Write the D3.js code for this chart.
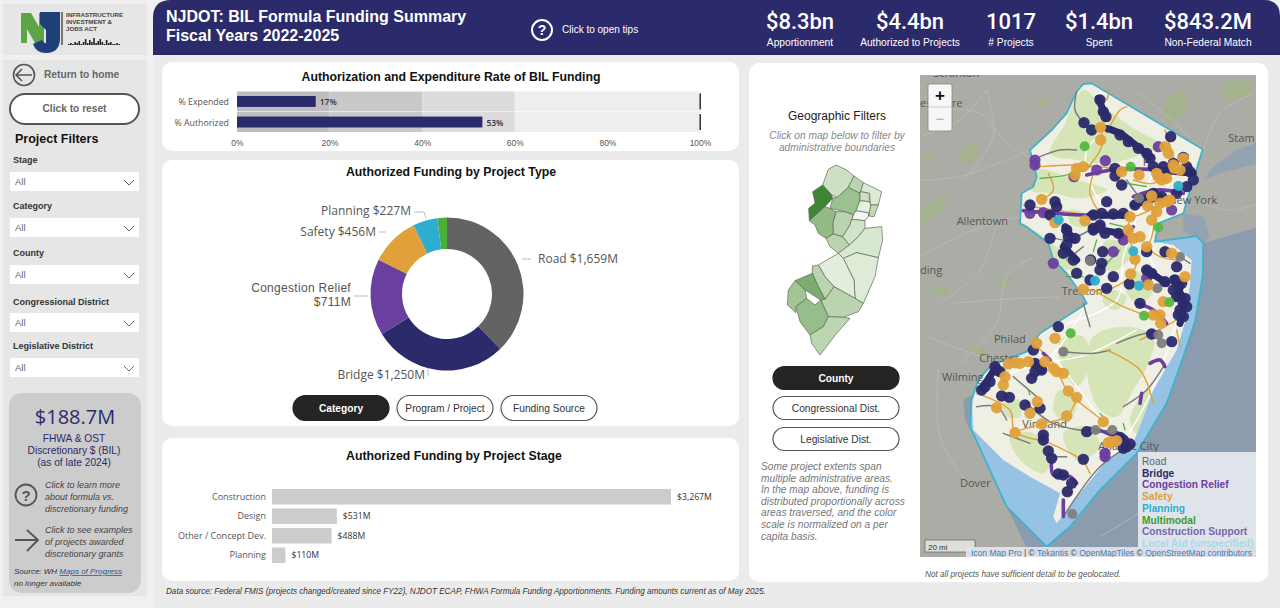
<!DOCTYPE html>
<html>
<head>
<meta charset="utf-8">
<script src="https://cdn.jsdelivr.net/npm/d3@7"></script>
<style>
  html, body { margin: 0; padding: 0; background: #f0f0f0; overflow: hidden; }
  text { font-family: "Liberation Sans", Arial, sans-serif; }
  text.soft { font-family: "Open Sans", "Noto Sans", sans-serif; }
  text.kpi { font-family: Roboto, sans-serif; }
</style>
</head>
<body>
<div id="chart"></div>
<script>
// ---- values ----
const kpiValues = ["$8.3bn", "$4.4bn", "1017", "$1.4bn", "$843.2M"];
const kpiLabels = ["Apportionment", "Authorized to Projects", "# Projects", "Spent", "Non-Federal Match"];
const filterNames = ["Stage", "Category", "County", "Congressional District", "Legislative District"];

const rateNames = ["% Expended", "% Authorized"];
const rateValues = [17, 53];
const rateBands = [20, 40, 60, 100];
const rateTicks = [0, 20, 40, 60, 80, 100];

const typeNames = ["Road", "Bridge", "Congestion Relief", "Safety", "Planning", "Multimodal"];
const typeValues = [1659, 1250, 711, 456, 227, 90];

const stageNames = ["Construction", "Design", "Other / Concept Dev.", "Planning"];
const stageValues = [3267, 531, 488, 110];

const legendNames = ["Road", "Bridge", "Congestion Relief", "Safety", "Planning", "Multimodal", "Construction Support", "Local Aid (unspecified)"];
const legendColors = ["#636363", "#2b2a6b", "#6b3fa0", "#e0a03a", "#2eaecf", "#3f9a2e", "#7568ab", "#a5dbe8"];

// county shapes and shading, in units of the small locator map
const countyShapes = [
  [[218,285],[235,238],[258,225],[290,240],[312,258],[295,292],[262,322],[245,315]],
  [[218,285],[245,315],[248,325],[225,350],[178,392],[176,355],[195,340],[188,305]],
  [[312,258],[340,278],[332,305],[330,310],[295,292]],
  [[340,278],[395,305],[385,345],[362,345],[358,310],[332,305]],
  [[295,292],[330,310],[330,332],[318,362],[310,375],[285,365],[240,355],[248,325],[262,322]],
  [[332,305],[358,310],[358,335],[330,332],[330,310]],
  [[362,345],[385,345],[372,380],[356,378]],
  [[318,362],[355,368],[356,378],[345,392],[305,388],[310,375]],
  [[330,332],[358,335],[362,345],[356,378],[355,368],[318,362]],
  [[258,365],[285,365],[310,375],[305,388],[300,405],[278,440],[250,432],[248,400]],
  [[178,392],[225,350],[240,355],[258,365],[248,400],[250,432],[228,445],[205,430],[195,405]],
  [[228,445],[250,432],[278,440],[298,465],[265,490],[240,470]],
  [[300,405],[305,388],[345,392],[345,415],[325,440],[298,465],[278,440]],
  [[345,415],[395,410],[398,450],[385,503],[320,488],[280,505],[265,490],[298,465],[325,440]],
  [[280,505],[320,488],[385,503],[375,560],[340,640],[315,625],[312,570]],
  [[205,525],[265,490],[280,505],[312,570],[315,625],[252,590],[225,560]],
  [[187,528],[205,525],[225,560],[252,590],[225,628],[205,590],[187,550]],
  [[135,572],[187,550],[205,590],[225,628],[212,630],[165,600]],
  [[252,590],[315,625],[340,640],[325,665],[280,682],[235,680],[212,630],[225,628]],
  [[112,645],[115,600],[135,572],[165,600],[170,625],[138,650],[138,668]],
  [[138,650],[170,625],[195,645],[212,630],[235,680],[220,710],[180,735],[150,695]],
  [[180,735],[220,710],[235,680],[280,682],[300,685],[260,730],[210,795],[185,760]]
];
const countyShade = [.2, 1, .3, .13, .45, .2, .25, .02, .08, .3, .5, .3, .18, .15, .12, .1, .3, .62, .3, .42, .48, .28];

// big map, in map units
const stateOutline = [[490,42],[515,40],[848,238],[800,395],[790,430],[715,460],[705,515],[830,498],[850,520],[848,620],[825,755],[790,860],[740,1000],[650,1150],[540,1260],[450,1370],[380,1430],[340,1390],[260,1310],[150,1070],[155,990],[175,930],[215,885],[320,845],[360,790],[470,720],[500,700],[490,680],[440,610],[400,570],[385,520],[320,470],[300,460],[305,370],[340,350],[350,320],[330,240],[395,180],[440,130],[470,65]];
const stateLand = [[490,42],[515,40],[848,238],[800,395],[790,430],[715,460],[705,515],[760,525],[815,570],[810,640],[800,740],[770,840],[700,960],[640,1120],[560,1170],[480,1270],[410,1360],[400,1340],[420,1270],[330,1220],[250,1170],[160,1080],[155,990],[175,930],[215,885],[320,845],[360,790],[470,720],[500,700],[490,680],[440,610],[400,570],[385,520],[320,470],[300,460],[305,370],[340,350],[350,320],[330,240],[395,180],[440,130],[470,65]];
const parkShapes = [
  [[490,60],[540,100],[640,175],[720,225],[660,255],[560,280],[470,270],[390,250],[430,170]],
  [[350,300],[470,330],[560,360],[480,385],[400,370],[330,360]],
  [[340,480],[420,540],[480,600],[420,590],[380,530]],
  [[560,510],[640,540],[590,600],[540,590]],
  [[520,800],[620,770],[700,800],[690,870],[640,960],[590,1040],[540,1020],[500,900]],
  [[420,810],[490,800],[510,880],[470,950],[430,900]],
  [[270,1100],[340,1090],[390,1180],[370,1210],[300,1170]],
  [[430,1090],[500,1070],[540,1130],[470,1170]],
  [[560,660],[620,680],[590,720],[550,700]],
  [[630,1050],[680,960],[700,970],[650,1090]],
  [[250,1000],[300,990],[300,1040],[260,1040]],
  [[420,960],[470,1000],[440,1060],[400,1020]],
  [[640,600],[700,660],[660,700],[620,670]],
  [[450,420],[510,440],[500,470],[450,460]]
];
const backgroundParks = [
  [[730,100],[790,60],[800,110],[750,160]],[[0,430],[70,380],[80,400],[10,460]],[[350,90],[385,85],[370,110]],
  [[30,660],[80,650],[70,680]],[[150,830],[200,840],[190,870]],[[900,60],[960,30],[1000,60],[930,90]],[[120,250],[170,220],[180,250],[130,280]],[[0,260],[40,255],[35,275]],[[220,640],[270,620],[260,650]]
];
const baseRoads = [
  [[0,330],[120,320],[330,240]],[[0,560],[160,480],[300,440]],[[60,120],[180,130],[260,220],[340,270]],[[150,1250],[60,1100],[55,900]],
  [[850,240],[900,130],[1000,70]],[[850,400],[930,420],[1020,400]],[[100,700],[220,690],[420,680]],[[20,800],[210,870]],[[540,1400],[700,1300],[830,1190]],
  [[200,60],[220,200],[130,330]],[[0,200],[120,150],[200,60]],[[230,460],[180,600],[60,700]],[[340,560],[260,620],[230,760],[120,880]],[[640,60],[720,120],[850,240]]
];
const whiteRoads = [
  [[540,60],[560,170],[500,240],[510,340],[560,420]],[[330,430],[520,430],[720,420]],[[700,300],[640,470],[610,560],[590,690],[440,760]],
  [[770,300],[700,450],[690,560],[770,700],[740,850],[620,1100],[430,1310]],[[500,700],[390,860],[250,920],[180,980]],[[400,860],[550,1060],[580,1120]],[[650,780],[480,860],[300,880]]
];
const orangeRoutes = [
  [[310,405],[400,420],[640,440],[720,400]],[[360,290],[470,285],[620,300]],[[520,310],[510,370],[540,430]],[[542,170],[545,230],[505,290]],
  [[385,310],[400,360],[365,390]],[[640,330],[700,340],[760,300]],[[630,440],[625,500],[650,570],[630,620],[560,660],[500,660]],[[680,530],[720,560],[770,570]],
  [[700,410],[700,480],[680,540]],[[520,660],[610,710],[690,740]],[[560,840],[660,900],[700,1000]],[[170,970],[270,1020],[285,1085],[390,1120],[490,1170]],
  [[285,1085],[370,1060],[440,1040],[470,985]],[[350,830],[400,880],[440,960],[470,990],[560,1060]],[[490,1170],[510,1210]],[[660,810],[700,790],[770,750]],[[770,780],[780,830]],
  [[260,880],[350,875],[430,910]],[[560,90],[570,60]],[[560,190],[600,120],[620,110]],[[735,180],[770,290]]
];
const greyRoutes = [
  [[470,65],[465,120],[492,160]],[[360,260],[420,240],[470,240]],[[620,330],[660,385]],[[390,500],[440,510],[510,480]],[[440,570],[490,530]],
  [[430,845],[520,850],[570,840]],[[590,820],[640,800],[720,780]],[[610,1010],[680,960],[730,890]],[[320,1000],[400,1060],[530,1085],[570,1080]],
  [[170,1010],[230,1010],[260,1050]],[[250,1090],[330,1120]],[[640,1120],[540,1190],[430,1340]],[[490,700],[510,770]],[[280,920],[350,980]],[[780,560],[810,580]],[[400,1160],[440,1160]]
];
const purpleRoutes = [
  [[310,422],[430,432],[530,436],[620,430]],[[500,315],[590,298],[720,300],[820,310]],[[345,270],[350,290]],[[640,380],[710,360],[790,370]],
  [[510,1075],[550,1085],[600,1110]],[[395,1170],[400,1215],[450,1220],[470,1240]],[[430,1290],[430,1340]],[[690,880],[720,870],[735,890]],[[665,970],[660,1000]],
  [[650,700],[700,720],[740,760]],[[370,850],[390,870]],[[560,1140],[555,1170]],[[640,470],[600,510]]
];
const greenRoutes = [
  [[360,325],[440,315],[510,290]],[[440,620],[490,620]],[[530,510],[520,545]],[[550,590],[600,540]],[[610,470],[570,460]],[[620,340],[680,350]],[[750,690],[780,690]],
  [[325,960],[330,975]],[[540,1030],[550,1040]],[[610,1060],[615,1080]]
];
const navyRoutes = [
  [[535,85],[560,145]],[[560,175],[600,190],[640,220],[690,260]],[[640,405],[720,380]],[[435,470],[460,510]],[[760,625],[790,700],[780,760]],[[430,530],[470,570]],[[350,880],[365,900]],
  [[510,436],[610,436]],[[720,300],[820,310]],[[520,475],[600,490]],[[680,600],[740,640]],[[225,895],[190,950]]
];
const navySites = [[540,90],[550,125],[558,140],[492,158],[515,180],[600,195],[625,215],[655,235],[680,250],[690,265],[752,200],[790,262],[730,290],[810,305],[820,330],[585,295],[585,318],[605,345],[725,380],[690,380],[645,405],[405,395],[410,410],[330,405],[390,435],[560,395],[545,430],[520,435],[540,465],[520,475],[555,490],[595,490],[440,480],[445,500],[465,505],[390,505],[440,525],[430,550],[460,570],[512,570],[548,545],[545,580],[540,600],[470,610],[510,630],[560,655],[580,620],[628,642],[680,545],[735,545],[770,590],[680,600],[695,610],[735,635],[765,630],[775,650],[780,680],[795,685],[660,700],[780,720],[785,640],[415,770],[340,840],[345,880],[365,900],[335,925],[230,900],[210,935],[185,960],[245,978],[268,982],[315,1005],[360,1015],[370,1095],[370,1110],[385,1143],[395,1165],[415,1212],[430,1215],[455,1240],[442,1265],[490,1168],[500,1085],[600,1102],[610,1135],[630,1122],[695,792],[755,815],
  [700,290],[760,280],[800,290],[770,370],[800,350],[700,370],[670,390],[225,890],[240,905],[345,905],[355,890],[195,950],[610,1110],[620,1130],[590,1100],[770,680],[790,700],[800,710],[775,735],[790,740],[610,430],[580,432],[520,480],[760,660]];
const orangeSites = [[542,172],[542,210],[735,230],[745,250],[790,265],[763,295],[470,295],[490,290],[465,315],[605,305],[657,315],[715,320],[740,325],[365,388],[695,378],[740,395],[683,408],[630,440],[495,452],[405,458],[710,425],[695,450],[625,480],[640,505],[660,500],[680,530],[645,568],[755,550],[632,612],[685,645],[490,658],[795,620],[730,695],[700,735],[720,735],[722,760],[350,820],[405,805],[265,882],[300,880],[325,875],[375,875],[400,895],[430,910],[255,920],[250,945],[445,963],[470,982],[352,995],[230,1013],[330,1030],[440,1038],[365,1062],[285,1088],[550,1055],[575,1115],
  [710,310],[725,330],[760,285],[780,300],[720,400],[750,390],[285,878],[410,905],[565,1118],[590,1112]];
const purpleSites = [[345,270],[345,285],[462,320],[556,272],[530,300],[715,230],[755,420],[330,430],[370,428],[540,472],[580,545],[400,580],[680,625],[610,510],[555,1150],[555,1160]];
const greenSites = [[494,229],[632,290],[715,472],[748,697],[672,737],[452,790]];
const tealSites = [[775,348],[416,450],[640,544],[657,647],[525,632]];
const greySites = [[657,385],[510,572],[780,560],[712,655],[715,795],[725,820],[430,845],[527,1080],[577,1080],[457,1332]];
const placeNames = [["Scranton",40,20],["es-",0,110],["re",95,110],["Stam",925,215],["P",668,288],["New York",745,403],["Allentown",110,465],["ding",0,613],["Trenton",425,675],["Philad",222,820],["Chester",178,875],["Wilming",66,932],["Vineland",307,1075],["Atlantic City",535,1140],["Dover",120,1252]];
const skylineHeights = [1, 2, 1, 3, 2, 4, 1, 3, 6, 2, 5, 3, 7, 2, 4, 6, 3, 1, 5, 2, 3, 1, 1, 2, 1];

// ---- page ----
const W = 1280, H = 608;
const navy = "#2b2a6b";
const svg = d3.select("#chart").append("svg").attr("width", W).attr("height", H).style("display", "block");

function label(parent, x, y, str, opts = {}) {
  return parent.append("text")
    .attr("x", x).attr("y", y)
    .attr("text-anchor", opts.anchor || "start")
    .attr("font-size", opts.size || 10)
    .attr("font-weight", opts.weight || "normal")
    .attr("font-style", opts.style || "normal")
    .attr("fill", opts.fill || "#333")
    .text(str);
}
function box(parent, x, y, w, h, r, fill, stroke, sw) {
  return parent.append("rect").attr("x", x).attr("y", y).attr("width", w).attr("height", h)
    .attr("rx", r || 0).attr("fill", fill || "none").attr("stroke", stroke || "none").attr("stroke-width", sw || 0);
}
function pill(cx, cy, w, h, txt, dark) {
  box(svg, cx - w / 2, cy - h / 2, w, h, h / 2, dark ? "#252423" : "#fff", dark ? "#252423" : "#555", 1.2);
  label(svg, cx, cy + 4, txt, { anchor: "middle", size: 10.2, weight: dark ? "bold" : "normal", fill: dark ? "#fff" : "#333" });
}

box(svg, 0, 0, W, H, 0, "#f0f0f0");
box(svg, 153, 55, W - 153, H - 55, 0, "#ebebeb");

// header
svg.append("path").attr("fill", navy).attr("d", "M153,55V18Q153,0 171,0H1264Q1280,0 1280,16V55Z");
label(svg, 166, 22, "NJDOT: BIL Formula Funding Summary", { size: 16, weight: "bold", fill: "#fff" });
label(svg, 166, 41, "Fiscal Years 2022-2025", { size: 16, weight: "bold", fill: "#fff" });
svg.append("circle").attr("cx", 542).attr("cy", 30).attr("r", 10).attr("fill", "none").attr("stroke", "#fff").attr("stroke-width", 2);
label(svg, 542, 35, "?", { anchor: "middle", size: 14, weight: "bold", fill: "#fff" });
label(svg, 562, 33, "Click to open tips", { size: 10, fill: "#fff" });
const kpiCenters = [800, 910, 1011, 1099, 1208];
kpiLabels.forEach((d, i) => {
  label(svg, kpiCenters[i], 29, kpiValues[i], { anchor: "middle", size: 22, weight: 500, fill: "#fff" }).attr("class", "kpi");
  label(svg, kpiCenters[i], 45.5, d, { anchor: "middle", size: 10.2, fill: "#fff" });
});

// logo
box(svg, 3, 4, 144, 51, 0, "#e6e6e6");
svg.append("path").attr("fill", "#5ba546").attr("d", "M21,13H31L39,27V13H44V43H35L27,29V43H21Z");
svg.append("path").attr("fill", "#1f3f78").attr("d", "M40,12H60V38Q60,53 46,53Q36,53 33,44L42,40Q44,44 46,43L46,30L40,24Z");
box(svg, 61, 12, 2, 33, 0, "#777");
["INFRASTRUCTURE", "INVESTMENT &", "JOBS ACT"].forEach((d, i) => {
  label(svg, 66, 17 + i * 7, d, { size: 6.2, weight: "bold", fill: "#444" });
});
const skyX = d3.scaleBand().domain(d3.range(skylineHeights.length)).range([68, 120]).paddingInner(0.25);
svg.append("g").selectAll("rect").data(skylineHeights).join("rect")
  .attr("x", (d, i) => skyX(i)).attr("width", skyX.bandwidth()).attr("y", d => 45 - d).attr("height", d => d).attr("fill", "#222");

// left filters
box(svg, 3, 60, 144, 536, 0, "#e6e6e6");
svg.append("circle").attr("cx", 24).attr("cy", 75).attr("r", 10.5).attr("fill", "none").attr("stroke", "#555").attr("stroke-width", 1.6);
svg.append("path").attr("fill", "none").attr("stroke", "#555").attr("stroke-width", 1.6).attr("d", "M32,75H16M22,69L16,75L22,81");
label(svg, 44, 78, "Return to home", { size: 10.2, weight: "bold", fill: "#666" });
box(svg, 10, 94, 129, 30, 15, "#fff", "#555", 2);
label(svg, 74.5, 112, "Click to reset", { anchor: "middle", size: 10.2, weight: "bold", fill: "#666" });
label(svg, 15, 143, "Project Filters", { size: 12.5, weight: "bold", fill: "#111" });
const filterLabelY = [163, 209, 256, 305, 349];
const filterBoxY = [172, 218, 265, 313, 358];
filterNames.forEach((d, i) => {
  label(svg, 13, filterLabelY[i], d, { size: 9, weight: "bold", fill: "#333" });
  box(svg, 10, filterBoxY[i], 129, 19, 0, "#fff");
  label(svg, 15, filterBoxY[i] + 13, "All", { size: 9.5, fill: "#666" });
  svg.append("path").attr("fill", "none").attr("stroke", "#666").attr("stroke-width", 1)
    .attr("d", `M124,${filterBoxY[i] + 8}l5,5l5,-5`);
});

// discretionary block
box(svg, 9, 393, 132, 200, 13, "#cccccc");
label(svg, 75, 424, "$188.7M", { anchor: "middle", size: 20, fill: navy }).attr("class", "soft");
["FHWA & OST", "Discretionary $ (BIL)", "(as of late 2024)"].forEach((d, i) => {
  label(svg, 74, 442 + i * 12, d, { anchor: "middle", size: 10.2, fill: navy });
});
svg.append("circle").attr("cx", 26).attr("cy", 495).attr("r", 10.5).attr("fill", "none").attr("stroke", "#555").attr("stroke-width", 1.8);
label(svg, 26, 501, "?", { anchor: "middle", size: 15, weight: "bold", fill: "#555" });
["Click to learn more", "about formula vs.", "discretionary funding"].forEach((d, i) => {
  label(svg, 45, 488 + i * 12, d, { size: 9, style: "italic", fill: "#444" });
});
svg.append("path").attr("fill", "none").attr("stroke", "#555").attr("stroke-width", 1.8).attr("d", "M15,540H37M27,530L38,540L27,551");
["Click to see examples", "of projects awarded", "discretionary grants"].forEach((d, i) => {
  label(svg, 45, 533 + i * 12, d, { size: 9, style: "italic", fill: "#444" });
});
const src = label(svg, 14, 574, "Source: WH ", { size: 8, style: "italic", fill: "#333" });
src.append("tspan").attr("fill", "#2f55a4").attr("text-decoration", "underline").text("Maps of Progress");
label(svg, 14, 586, "no longer available", { size: 8, style: "italic", fill: "#333" });

// cards
box(svg, 162, 62, 577, 89, 10, "#fff");
box(svg, 162, 160, 577, 266, 10, "#fff");
box(svg, 162, 438, 577, 143, 10, "#fff");
box(svg, 749, 63, 519, 519, 10, "#fff");

// rate bullet chart
label(svg, 451, 81, "Authorization and Expenditure Rate of BIL Funding", { anchor: "middle", size: 12.3, weight: "bold", fill: "#111" });
const rateX = d3.scaleLinear().domain([0, 100]).range([237, 700]);
const rateY = d3.scaleBand().domain(rateNames).range([91.5, 132]).paddingInner(0.03);
const bandFill = ["#bdbdbd", "#c9c9c9", "#dcdcdc", "#eeeeee"];
const rateG = svg.append("g");
rateNames.forEach(n => {
  rateG.selectAll(null).data(rateBands).join("rect")
    .attr("x", (d, i) => rateX(i ? rateBands[i - 1] : 0))
    .attr("width", (d, i) => rateX(d) - rateX(i ? rateBands[i - 1] : 0))
    .attr("y", rateY(n)).attr("height", rateY.bandwidth())
    .attr("fill", (d, i) => bandFill[i]);
  rateG.append("rect").attr("x", rateX(100) - 0.5).attr("width", 1.4)
    .attr("y", rateY(n) + 2).attr("height", rateY.bandwidth() - 4).attr("fill", "#222");
});
rateG.selectAll(null).data(rateValues).join("rect")
  .attr("x", rateX(0)).attr("y", (d, i) => rateY(rateNames[i]) + 4.5)
  .attr("width", d => rateX(d) - rateX(0)).attr("height", rateY.bandwidth() - 9).attr("fill", navy);
rateG.selectAll(null).data(rateValues).join("text").attr("class", "soft")
  .attr("x", d => rateX(d) + 4).attr("y", (d, i) => rateY(rateNames[i]) + 13.5)
  .attr("font-size", 8.5).attr("font-weight", 600).attr("fill", "#333").text(d => d + "%");
rateNames.forEach(n => {
  label(svg, 229, rateY(n) + 13.5, n, { anchor: "end", size: 8.8, fill: "#555" }).attr("class", "soft");
});
const rateAxis = svg.append("g").attr("transform", "translate(0,138)")
  .call(d3.axisBottom(rateX).tickValues(rateTicks).tickFormat(d => d + "%").tickSize(0).tickPadding(2));
rateAxis.select(".domain").remove();
rateAxis.selectAll("text").attr("font-size", 8.5).attr("fill", "#555").attr("font-family", "Open Sans");

// donut
label(svg, 451, 176, "Authorized Funding by Project Type", { anchor: "middle", size: 12.3, weight: "bold", fill: "#111" });
const typeColors = d3.scaleOrdinal().domain(typeNames).range(["#636363", navy, "#6b3fa0", "#e0a03a", "#2eaecf", "#4cae3c"]);
const pie = d3.pie().sort(null)(typeValues);
const arc = d3.arc().innerRadius(45).outerRadius(76.5);
svg.append("g").attr("transform", "translate(447,294)").selectAll("path").data(pie).join("path")
  .attr("d", arc).attr("fill", (d, i) => typeColors(typeNames[i]));
const donutLabels = [
  [538, 263, "start", `Road $${d3.format(",")(typeValues[0])}M`],
  [425, 379, "end", `Bridge $${d3.format(",")(typeValues[1])}M`],
  [376, 236, "end", `Safety $${typeValues[3]}M`],
  [411, 215, "end", `Planning $${typeValues[4]}M`]
];
donutLabels.forEach(d => label(svg, d[0], d[1], d[3], { anchor: d[2], size: 12, fill: "#555" }).attr("class", "soft"));
// tighter font here, the two lines sit close together
label(svg, 351, 291.5, typeNames[2], { anchor: "end", size: 12, fill: "#555" }).attr("letter-spacing", 0.3);
label(svg, 351, 305.5, `$${typeValues[2]}M`, { anchor: "end", size: 12, fill: "#555" }).attr("letter-spacing", 0.3);
svg.append("g").attr("fill", "none").attr("stroke", "#aaa").attr("stroke-width", 0.8).selectAll("path")
  .data(["M414,212H424L426,218", "M522,259H531", "M354,296H368", "M428,368V376", "M379,232H386"]).join("path").attr("d", d => d);
pill(341, 408, 96, 25, "Category", true);
pill(445, 408, 96, 25, "Program / Project", false);
pill(549, 408, 96, 25, "Funding Source", false);

// stage bars
label(svg, 454, 460, "Authorized Funding by Project Stage", { anchor: "middle", size: 12.3, weight: "bold", fill: "#111" });
const stageX = d3.scaleLinear().domain([0, 3267]).range([272, 671]);
const stageY = d3.scaleBand().domain(stageNames).range([487, 565]).paddingInner(0.2).paddingOuter(0.1);
svg.append("g").selectAll("rect").data(stageValues).join("rect")
  .attr("x", stageX(0)).attr("y", (d, i) => stageY(stageNames[i]))
  .attr("width", d => stageX(d) - stageX(0)).attr("height", stageY.bandwidth()).attr("fill", "#cccccc");
stageNames.forEach((n, i) => {
  const midY = stageY(n) + stageY.bandwidth() / 2 + 3;
  label(svg, 266, midY, n, { anchor: "end", size: 9, fill: "#555" }).attr("class", "soft");
  label(svg, stageX(stageValues[i]) + 6, midY, "$" + d3.format(",")(stageValues[i]) + "M", { size: 8.7, fill: "#333" }).attr("class", "soft");
});
label(svg, 166, 594, "Data source: Federal FMIS (projects changed/created since FY22), NJDOT ECAP, FHWA Formula Funding Apportionments. Funding amounts current as of May 2025.", { size: 8.15, style: "italic", fill: "#333" });

// geographic filters
label(svg, 837, 120, "Geographic Filters", { anchor: "middle", size: 12, fill: "#222" });
label(svg, 837, 139, "Click on map below to filter by", { anchor: "middle", size: 10.2, style: "italic", fill: "#888" });
label(svg, 837, 151, "administrative boundaries", { anchor: "middle", size: 10.2, style: "italic", fill: "#888" });
const locX = d3.scaleLinear().domain([0, 510]).range([750, 920]);
const locY = d3.scaleLinear().domain([0, 840]).range([90, 370]);
const locLine = d3.line().x(d => locX(d[0])).y(d => locY(d[1])).curve(d3.curveLinearClosed);
const shadeScale = d3.scaleLinear().domain([0, .25, .6, 1]).range(["#f7faf4", "#c3dab8", "#7fae72", "#3f8533"]);
svg.append("g").selectAll("path").data(countyShapes).join("path")
  .attr("d", locLine).attr("fill", (d, i) => shadeScale(countyShade[i])).attr("stroke", "#5c6b58").attr("stroke-width", 0.7);
pill(836, 378, 126, 23, "County", true);
pill(836, 408, 126, 23, "Congressional Dist.", false);
pill(836, 439, 126, 23, "Legislative Dist.", false);
["Some project extents span", "multiple administrative areas.", "In the map above, funding is", "distributed proportionally across", "areas traversed, and the color", "scale is normalized on a per", "capita basis."].forEach((d, i) => {
  label(svg, 761, 470 + i * 11.6, d, { size: 10.2, style: "italic", fill: "#777" });
});
label(svg, 925, 577, "Not all projects have sufficient detail to be geolocated.", { size: 8.2, style: "italic", fill: "#555" });

// big map
const mapX = d3.scaleLinear().domain([0, 1020]).range([920, 1260]);
const mapY = d3.scaleLinear().domain([0, 1560]).range([70, 590]);
const openLine = d3.line().x(d => mapX(d[0])).y(d => mapY(d[1])).curve(d3.curveCatmullRom.alpha(0.5));
const polyLine = d3.line().x(d => mapX(d[0])).y(d => mapY(d[1])).curve(d3.curveLinearClosed);
const blobLine = d3.line().x(d => mapX(d[0])).y(d => mapY(d[1])).curve(d3.curveCatmullRomClosed);
svg.append("clipPath").attr("id", "map-clip").append("rect").attr("x", 920).attr("y", 75).attr("width", 336).attr("height", 482);
svg.append("clipPath").attr("id", "land-clip").append("path").attr("d", polyLine(stateLand));
const map = svg.append("g").attr("clip-path", "url(#map-clip)");
box(map, 920, 75, 336, 482, 0, "#abaca6");
// ocean and bays
map.append("path").attr("fill", "#8a9cae").attr("d", polyLine([[850,520],[1020,470],[1020,1560],[380,1560],[260,1310],[215,1190],[135,1050],[130,990],[180,960],[700,1000]]));
map.append("path").attr("fill", "#94a3b2").attr("d", polyLine([[1020,215],[950,240],[880,290],[850,330],[900,310],[1020,280]]));
map.append("path").attr("fill", "#94a3b2").attr("d", polyLine([[790,430],[850,440],[870,500],[850,520],[790,480]]));
map.selectAll(".bg-park").data(backgroundParks).join("path").attr("d", blobLine).attr("fill", "#a4b28d");
map.selectAll(".bg-road").data(baseRoads).join("path").attr("d", openLine).attr("fill", "none").attr("stroke", "#bdbdb9").attr("stroke-width", 0.8);
map.append("path").attr("d", polyLine(stateOutline)).attr("fill", "#96c3e4");
map.append("path").attr("d", polyLine(stateLand)).attr("fill", "#f0efe4");
const land = map.append("g").attr("clip-path", "url(#land-clip)");
land.selectAll(".park").data(parkShapes).join("path").attr("d", blobLine).attr("fill", "#d6e5b8");
land.selectAll(".white-road").data(whiteRoads).join("path").attr("d", openLine).attr("fill", "none").attr("stroke", "#fff").attr("stroke-width", 1.4);
map.append("path").attr("d", polyLine(stateOutline)).attr("fill", "none").attr("stroke", "#3fb2cd").attr("stroke-width", 1.8);
placeNames.forEach(d => {
  map.append("text").attr("class", "soft").attr("x", mapX(d[1])).attr("y", mapY(d[2]))
    .attr("font-size", 11).attr("fill", "#555").text(d[0]);
});

function routes(data, color, width) {
  map.append("g").selectAll("path").data(data).join("path").attr("d", openLine)
    .attr("fill", "none").attr("stroke", color).attr("stroke-width", width).attr("stroke-linecap", "round");
}
function sites(data, color, r) {
  map.append("g").selectAll("circle").data(data).join("circle")
    .attr("cx", d => mapX(d[0])).attr("cy", d => mapY(d[1])).attr("r", r).attr("fill", color).attr("fill-opacity", 0.95);
}
routes(greyRoutes, "#7d7d7d", 1.5);
routes(orangeRoutes, "#e0a03a", 1.4);
routes(greenRoutes, "#4cae3c", 1.2);
routes(purpleRoutes, "#6b3fa0", 3.6);
routes(navyRoutes, navy, 7);
sites(purpleSites, "#6b3fa0", 5.6);
sites(navySites, navy, 5.7);
sites(greySites, "#7d7d7d", 5);
sites(orangeSites, "#e0a03a", 5.7);
sites(greenSites, "#55b83f", 5);
sites(tealSites, "#2eaecf", 5);

// zoom buttons, scale bar, legend, attribution
box(map, 928, 84, 24, 47, 2, "#f7f7f7", "#888", 0.8);
map.append("line").attr("x1", 928).attr("x2", 952).attr("y1", 107).attr("y2", 107).attr("stroke", "#ccc");
label(map, 940, 101, "+", { anchor: "middle", size: 17, weight: "bold", fill: "#111" });
label(map, 940, 124, "−", { anchor: "middle", size: 15, fill: "#aaa" });
map.append("path").attr("fill", "#e8e8e4").attr("opacity", .85).attr("stroke", "#555").attr("stroke-width", .7).attr("d", "M925,552V540H975V552Z");
label(map, 928, 550, "20 mi", { size: 8, fill: "#333" });
box(map, 966, 547, 290, 10, 0, "#e3e6ee").attr("opacity", .9);
const attr = label(map, 971, 555.5, "Icon Map Pro", { size: 8.5, fill: "#3b7fae" });
attr.append("tspan").attr("fill", "#444").text(" | © ");
attr.append("tspan").text("Tekantis");
attr.append("tspan").attr("fill", "#444").text(" © ");
attr.append("tspan").text("OpenMapTiles");
attr.append("tspan").attr("fill", "#444").text(" © ");
attr.append("tspan").text("OpenStreetMap contributors");
box(map, 1138, 452, 118, 96, 0, "#dfe3ea");
legendNames.forEach((d, i) => {
  label(map, 1142, 465 + i * 11.7, d, { size: 10.2, weight: i ? "bold" : "normal", fill: legendColors[i] });
});
</script>
</body>
</html>
